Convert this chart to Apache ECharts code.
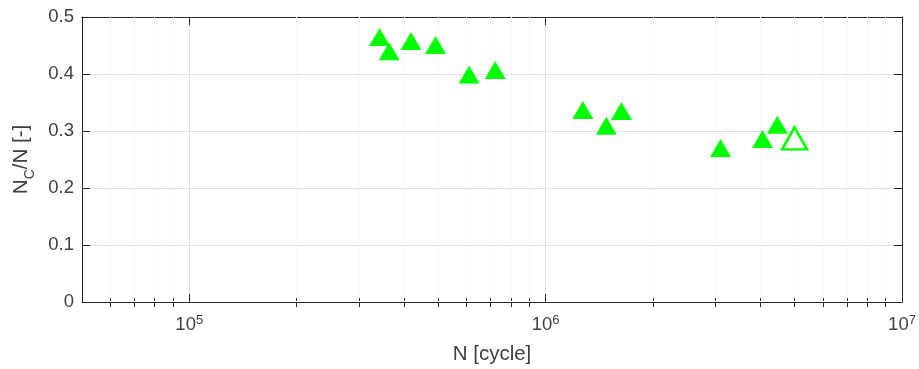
<!DOCTYPE html>
<html>
<head>
<meta charset="utf-8">
<script src="https://cdn.jsdelivr.net/npm/echarts@6/dist/echarts.min.js"></script>
<style>
  html, body { margin: 0; padding: 0; background: #fff; }
  #chart { width: 919px; height: 369px; }
</style>
</head>
<body>
<div id="chart"></div>
<script>
// N [cycle] and Nc/N [-]
const cyclesFilled = [342000, 364000, 419000, 491000, 610000, 722000, 1272000, 1480000, 1632000, 3097000, 4061000, 4469000];
const ratioFilled = [0.465, 0.44, 0.458, 0.451, 0.399, 0.407, 0.337, 0.309, 0.335, 0.27, 0.286, 0.311];
const cyclesOpen = [4994000];
const ratioOpen = [0.287];

const majorTicks = [1e5, 1e6, 1e7];
const minorTicks = [6e4, 7e4, 8e4, 9e4,
  2e5, 3e5, 4e5, 5e5, 6e5, 7e5, 8e5, 9e5,
  2e6, 3e6, 4e6, 5e6, 6e6, 7e6, 8e6, 9e6];

const textColor = "#404040";
const lineColor = "#262626";
const fontFamily = "Liberation Sans, Arial, sans-serif";

const chart = echarts.init(document.getElementById("chart"));

const xBase = {
  type: "log",
  logBase: 10,
  min: 5e4,
  max: 1e7,
  gridIndex: 0,
};

function xAxisOf(position, ticks, len, opts) {
  return Object.assign({}, xBase, {
    position: position,
    axisLine: { show: true, onZero: false, lineStyle: { color: lineColor, width: 1 } },
    axisTick: { show: true, inside: true, length: len, customValues: ticks, lineStyle: { color: lineColor } },
    axisLabel: { show: false },
    splitLine: { show: false },
  }, opts || {});
}

chart.setOption({
  animation: false,
  grid: { left: 82, right: 17, top: 17, bottom: 67, containLabel: false, outerBoundsMode: "none" },
  xAxis: [
    xAxisOf("bottom", majorTicks, 8, {
      name: "N [cycle]",
      nameLocation: "middle",
      nameGap: 42,
      nameTextStyle: { color: textColor, fontSize: 20.5, fontFamily: fontFamily },
      axisLabel: {
        show: true,
        customValues: majorTicks,
        margin: 12,
        formatter: (v) => "{b|10}{s|" + Math.round(Math.log10(v)) + "}",
        rich: {
          b: { color: textColor, fontSize: 18.5, fontFamily: fontFamily, lineHeight: 22 },
          s: { color: textColor, fontSize: 13, fontFamily: fontFamily, verticalAlign: "top", lineHeight: 14 },
        },
      },
      splitLine: { show: true, lineStyle: { color: "#e0e0e0", width: 1 } },
    }),
    xAxisOf("top", majorTicks, 8),
    xAxisOf("bottom", minorTicks, 5, { axisLine: { show: false } }),
    xAxisOf("top", minorTicks, 5, { axisLine: { show: false } }),
  ],
  yAxis: [
    {
      type: "value",
      min: 0,
      max: 0.5,
      interval: 0.1,
      position: "left",
      name: "{m|N}{c|C}{m|/N [-]}",
      nameLocation: "middle",
      nameGap: 44,
      nameTextStyle: {
        rich: {
          m: { color: textColor, fontSize: 20.5, fontFamily: fontFamily, lineHeight: 24, verticalAlign: "top" },
          c: { color: textColor, fontSize: 14, fontFamily: fontFamily, lineHeight: 27, verticalAlign: "bottom" },
        },
      },
      axisLine: { show: true, lineStyle: { color: lineColor, width: 1 } },
      axisTick: { show: true, inside: true, length: 8, lineStyle: { color: lineColor } },
      axisLabel: {
        color: textColor,
        fontSize: 18.5,
        fontFamily: fontFamily,
        margin: 8,
        formatter: (v) => String(Math.round(v * 10) / 10),
      },
      splitLine: { show: true, lineStyle: { color: "#e0e0e0", width: 1 } },
    },
    {
      type: "value",
      min: 0,
      max: 0.5,
      interval: 0.1,
      position: "right",
      axisLine: { show: true, lineStyle: { color: lineColor, width: 1 } },
      axisTick: { show: true, inside: true, length: 8, lineStyle: { color: lineColor } },
      axisLabel: { show: false },
      splitLine: { show: false },
    },
  ],
  series: [
    {
      name: "minor grid",
      type: "scatter",
      xAxisIndex: 0,
      yAxisIndex: 0,
      data: [],
      silent: true,
      markLine: {
        silent: true,
        symbol: "none",
        label: { show: false },
        lineStyle: { color: "#e6e6e6", type: [1, 3], width: 1 },
        data: minorTicks.map((v) => ({ xAxis: v })),
      },
    },
    {
      name: "filled",
      type: "scatter",
      xAxisIndex: 0,
      yAxisIndex: 0,
      symbol: "triangle",
      symbolSize: [21, 18],
      itemStyle: { color: "#00ff00", opacity: 1 },
      data: cyclesFilled.map((x, i) => [x, ratioFilled[i]]),
      z: 5,
    },
    {
      name: "open",
      type: "scatter",
      xAxisIndex: 0,
      yAxisIndex: 0,
      symbol: "triangle",
      symbolSize: [25, 22],
      itemStyle: { color: "#ffffff", borderColor: "#00ff00", borderWidth: 2.5, opacity: 1 },
      data: cyclesOpen.map((x, i) => [x, ratioOpen[i]]),
      z: 5,
    },
  ],
});
</script>
</body>
</html>
